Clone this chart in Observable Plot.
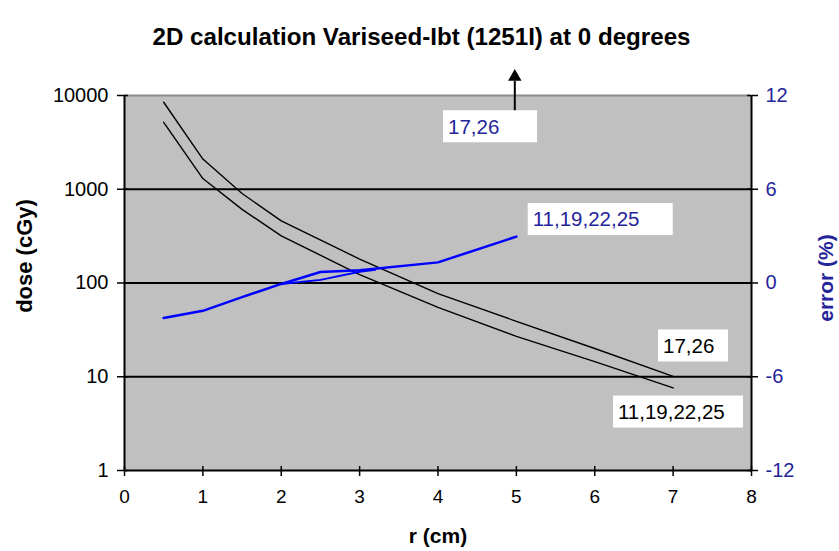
<!DOCTYPE html>
<html>
<head>
<meta charset="utf-8">
<script src="https://cdn.jsdelivr.net/npm/d3@7"></script>
<script src="https://cdn.jsdelivr.net/npm/@observablehq/plot@0.6"></script>
<style>
  html, body { margin: 0; padding: 0; background: #fff; }
  #chart { position: relative; width: 839px; height: 551px; }
  #chart svg { position: absolute; left: 0; top: 0; }
</style>
</head>
<body>
<div id="chart"></div>
<script>
// ---- data ----
const radius = [0.5, 1, 1.5, 2, 3, 4, 5, 6, 7];
const dose_17_26 = [8470, 2100, 900, 460, 180, 77, 39, 20, 10.1];
const dose_11_19_22_25 = [5180, 1300, 610, 318, 123, 55, 27, 14.5, 7.6];
const errRadius = [0.5, 1, 1.5, 2, 2.5, 3, 4, 5];
const errorMain = [-2.24, -1.78, -0.9, -0.06, 0.7, 0.82, 1.32, 2.97];
const errRadiusAlt = [2, 2.5, 3, 3.2];
const errorAlt = [-0.06, 0.2, 0.72, 0.85];
const doseTicks = [1, 10, 100, 1000, 10000];
const errTicks = [-12, -6, 0, 6, 12];
const xTicks = [0, 1, 2, 3, 4, 5, 6, 7, 8];
const labelText = ["17,26", "11,19,22,25", "17,26", "11,19,22,25"];

const W = 839, H = 551;
const FONT = "'Liberation Sans', Arial, sans-serif";
const BLUE = "#0000ff";
const BLUE_TEXT = "#25259a";

// map error (%) onto the log dose axis: -12 -> 1, 12 -> 10000, and back
const errToY = e => Math.pow(10, (e + 12) / 24 * 4);
const yToErr = y => Math.round(Math.log10(y) / 4 * 24 - 12);

const doseRows = [];
radius.forEach((r, i) => {
  doseRows.push({r, dose: dose_17_26[i], s: "17,26"});
  doseRows.push({r, dose: dose_11_19_22_25[i], s: "11,19,22,25"});
});
const errRows = errRadius.map((r, i) => ({r, y: errToY(errorMain[i])}));
const errRowsAlt = errRadiusAlt.map((r, i) => ({r, y: errToY(errorAlt[i])}));

// annotation placement (x in cm, y in error %), box width in px
const labelPlace = [
  {r: 4.134, e: 10.0, w: 94, color: BLUE_TEXT},
  {r: 5.215, e: 4.06, w: 145, color: BLUE_TEXT},
  {r: 6.877, e: -4.03, w: 70, color: "#000"},
  {r: 6.303, e: -8.26, w: 130, color: "#000"}
];
const labels = labelPlace.map((p, i) => ({...p, y: errToY(p.e), text: labelText[i]}));
const arrowAt = [{r: 4.98, y1: errToY(10.1), y2: errToY(12.9), tip: errToY(13.2)}];

const plot = Plot.plot({
  width: W,
  height: H,
  marginLeft: 124,
  marginRight: 88,
  marginTop: 95,
  marginBottom: 81,
  style: {fontFamily: FONT, fontSize: "20px", background: "transparent", overflow: "visible"},
  x: {domain: [0, 8], axis: null},
  y: {type: "log", domain: [1, 10000], axis: null},
  marks: [
    Plot.frame({fill: "#c0c0c0", stroke: null}),
    Plot.ruleY([10, 100, 1000], {stroke: "#000", strokeWidth: 2}),
    Plot.ruleY([10000], {stroke: "#8c8c8c", strokeWidth: 2}),
    // axis lines
    Plot.ruleX([0], {stroke: "#000", strokeWidth: 2}),
    Plot.ruleX([8], {stroke: "#000", strokeWidth: 2}),
    Plot.ruleY([1], {stroke: "#000", strokeWidth: 2}),
    // axes
    Plot.axisY(doseTicks, {anchor: "left", tickSize: 7, tickPadding: 9, tickFormat: d => String(d), fontSize: 20, stroke: "#000", strokeWidth: 1.5, color: "#000", label: null}),
    Plot.axisY(errTicks.map(errToY), {anchor: "right", tickSize: 6, tickPadding: 8, tickFormat: d => String(yToErr(d)), fontSize: 20, stroke: "#000", strokeWidth: 1.5, color: BLUE_TEXT, label: null}),
    Plot.axisX(xTicks, {anchor: "bottom", tickSize: 6, tickPadding: 13, fontSize: 19, stroke: "#000", strokeWidth: 1.5, label: null}),
    // Excel "cross" ticks inside the frame
    Plot.ruleY(doseTicks, {x1: 0, x2: 0.05, stroke: "#000", strokeWidth: 1.5}),
    Plot.ruleY(errTicks.map(errToY), {x1: 7.95, x2: 8, stroke: "#000", strokeWidth: 1.5}),
    Plot.ruleX(xTicks, {y1: 1, y2: 1.1, stroke: "#000", strokeWidth: 1.5}),
    // dose curves
    Plot.line(doseRows, {x: "r", y: "dose", z: "s", stroke: "#000", strokeWidth: 1.4}),
    // error curves
    Plot.line(errRowsAlt, {x: "r", y: "y", stroke: BLUE, strokeWidth: 2}),
    Plot.line(errRows, {x: "r", y: "y", stroke: BLUE, strokeWidth: 2.5}),
    // arrow for off-scale 17,26 error
    Plot.ruleX(arrowAt, {x: "r", y1: "y1", y2: "y2", stroke: "#000", strokeWidth: 2}),
    Plot.dot(arrowAt, {x: "r", y: "tip", symbol: "triangle", r: 5, fill: "#000", stroke: null}),
    // label boxes
    Plot.text(labels, {x: "r", y: "y", text: "text", render: (index, scales, values) => {
      const g = d3.create("svg:g");
      for (const i of index) {
        const x = values.x[i], y = values.y[i];
        g.append("rect").attr("x", x - 5).attr("y", y - 16).attr("width", labels[i].w).attr("height", 32).attr("fill", "#fff");
        g.append("text").attr("x", x).attr("y", y).attr("dy", "0.36em").attr("fill", labels[i].color)
          .attr("text-anchor", "start").attr("font-family", FONT).attr("font-size", 20.5).text(labels[i].text);
      }
      return g.node();
    }}),
    // title and axis titles
    Plot.text(["2D calculation Variseed-Ibt (1251I) at 0 degrees"], {
      frameAnchor: "top-left", dx: 421 - 124, dy: -58, textAnchor: "middle", lineAnchor: "middle",
      fontSize: 24, fontWeight: "bold", fill: "#000",
      render: (i, s, v, d, c, next) => {
        const g = next(i, s, v, d, c);
        d3.select(g).selectAll("text").attr("textLength", 538).attr("lengthAdjust", "spacingAndGlyphs");
        return g;
      }
    }),
    Plot.text(["r (cm)"], {frameAnchor: "bottom", dy: 72, fontSize: 21, fontWeight: "bold", fill: "#000"}),
    Plot.text(["dose (cGy)"], {frameAnchor: "left", dx: -100, dy: -27, rotate: -90, textAnchor: "middle", lineAnchor: "middle", fontSize: 22, fontWeight: "bold", fill: "#000"}),
    Plot.text(["error (%)"], {frameAnchor: "right", dx: 75, dy: -5, rotate: -90, textAnchor: "middle", lineAnchor: "middle", fontSize: 21, fontWeight: "bold", fill: BLUE_TEXT})
  ]
});
document.getElementById("chart").appendChild(plot);
</script>
</body>
</html>
